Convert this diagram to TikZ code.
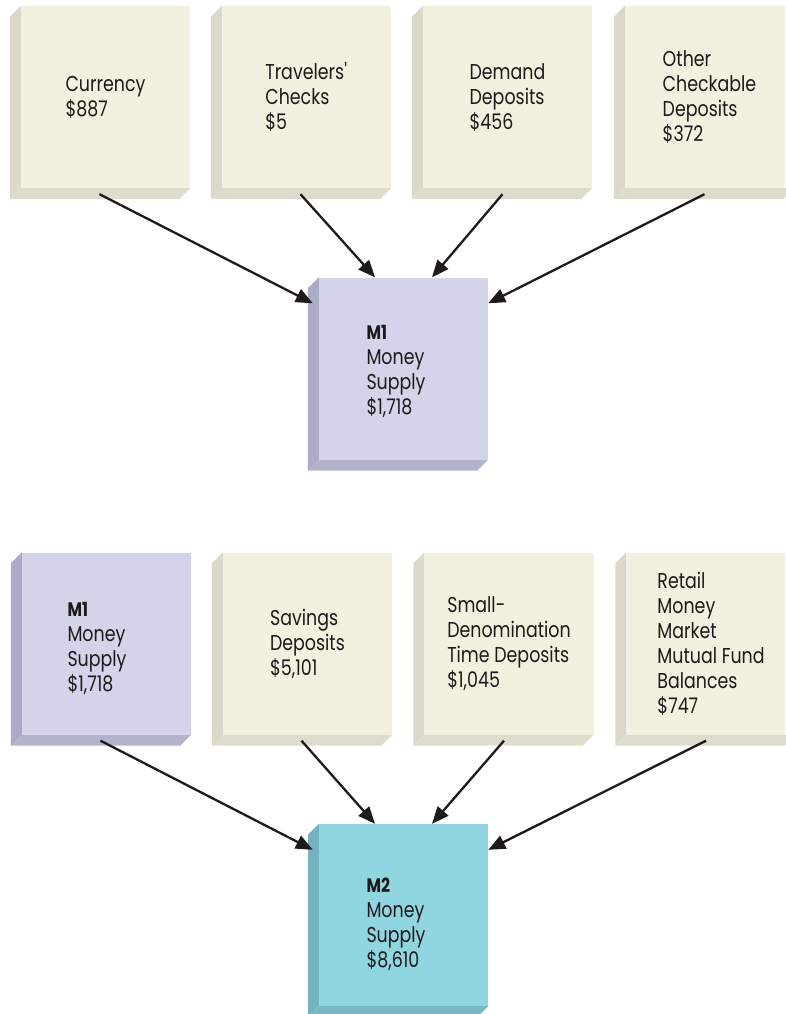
\documentclass[tikz,border=0pt]{standalone}
\usepackage{fontspec}
\setmainfont{Poppins}[FakeStretch=0.81]
\usetikzlibrary{arrows.meta,backgrounds}
\definecolor{beigeF}{HTML}{F2F0DF}
\definecolor{beigeL}{HTML}{DAD8C8}
\definecolor{beigeB}{HTML}{DEDCCC}
\definecolor{lavF}{HTML}{D3D3E9}
\definecolor{lavL}{HTML}{ABABC7}
\definecolor{lavB}{HTML}{B3B3CD}
\definecolor{cyanF}{HTML}{8FD6E1}
\definecolor{cyanL}{HTML}{74B2BD}
\definecolor{cyanB}{HTML}{7AB8C3}
\definecolor{ink}{HTML}{1E1A1B}
\newcommand\boxsides[3]{%
  \fill[#2] (#1.north west) -- ++(-11,11) -- ([shift={(-11,11)}]#1.south west) -- (#1.south west) -- cycle;
  \fill[#3] (#1.south west) -- ([shift={(-11,11)}]#1.south west) -- ([shift={(-11,11)}]#1.south east) -- (#1.south east) -- cycle;}
\newcommand\mhead[2]{\rule{0pt}{#2}{\bfseries\fontsize{19.5}{25}\selectfont #1}}
\begin{document}
\begin{tikzpicture}[x=1pt,y=-1pt,
  box/.style={rectangle, minimum width=169pt, minimum height=182pt, inner sep=0pt,
    align=left, text=ink, font=\fontsize{21.5}{25}\selectfont},
  plain/.style={box, fill=beigeF},
  mone/.style={box, fill=lavF, text width=74pt},
  mtwo/.style={box, fill=cyanF, text width=74pt},
  arr/.style={line width=2.3pt, draw=ink, -{Triangle[length=17pt,width=14pt]}}]
\useasboundingbox (0,0) rectangle (785,1014);
\clip (0,0) rectangle (785,1014);
% top row
\node[plain] (c1) at (105.5,97) {Currency\\\$887};
\node[plain] (c2) at (306.5,97) {Travelers\textquotesingle\\Checks\\\$5};
\node[plain] (c3) at (507.5,97) {Demand\\Deposits\\\$456};
\node[plain] (c4) at (709.5,97) {Other\\Checkable\\Deposits\\\$372};
\node[mone] (m1) at (403.5,368.5) {\mhead{M1}{21pt}\\Money\\Supply\\\$1,718};
% bottom row
\node[mone, text width=78pt] (d1) at (106.5,643.5) {\mhead{M1}{25pt}\\Money\\Supply\\\$1,718};
\node[plain] (d2) at (307.5,643.5) {Savings\\Deposits\\\$5,101};
\node[plain] (d3) at (509,643.5) {Small-\\Denomination\\Time Deposits\\\$1,045};
\node[plain] (d4) at (711,643.5) {Retail\\Money\\Market\\Mutual Fund\\Balances\\\$747};
\node[mtwo] (m2) at (403.5,915) {\mhead{M2}{33pt}\\Money\\Supply\\\$8,610};
\begin{scope}[on background layer]
  \boxsides{c1}{beigeL}{beigeB}
  \boxsides{c2}{beigeL}{beigeB}
  \boxsides{c3}{beigeL}{beigeB}
  \boxsides{c4}{beigeL}{beigeB}
  \boxsides{m1}{lavL}{lavB}
  \boxsides{d1}{lavL}{lavB}
  \boxsides{d2}{beigeL}{beigeB}
  \boxsides{d3}{beigeL}{beigeB}
  \boxsides{d4}{beigeL}{beigeB}
  \boxsides{m2}{cyanL}{cyanB}
\end{scope}
% arrows to M1
\draw[arr] ([shift={(-6,6)}]c1.south) -- ([shift={(-6,26)}]m1.north west);
\draw[arr] ([shift={(-6,6)}]c2.south) -- ([xshift=-28.5pt]m1.north);
\draw[arr] ([shift={(-5,6)}]c3.south) -- ([xshift=28.5pt]m1.north);
\draw[arr] ([shift={(-5,6)}]c4.south) -- ([shift={(0,26)}]m1.north east);
% arrows to M2
\draw[arr] ([shift={(-6,6)}]d1.south) -- ([shift={(-6,26)}]m2.north west);
\draw[arr] ([shift={(-6,6)}]d2.south) -- ([xshift=-28.5pt]m2.north);
\draw[arr] ([shift={(-5,6)}]d3.south) -- ([xshift=28.5pt]m2.north);
\draw[arr] ([shift={(-5,6)}]d4.south) -- ([shift={(0,26)}]m2.north east);
\end{tikzpicture}
\end{document}
